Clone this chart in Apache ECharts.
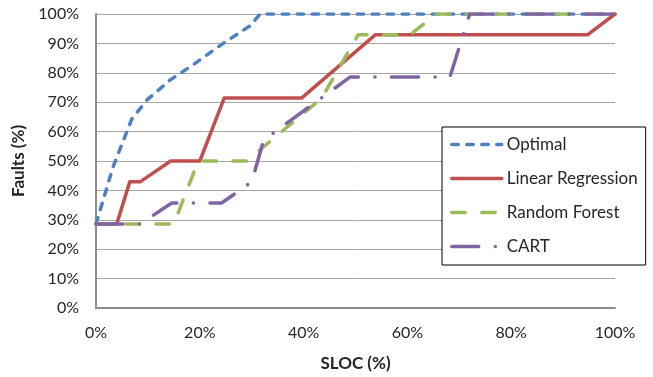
<!DOCTYPE html>
<html>
<head>
<meta charset="utf-8">
<script src="https://cdn.jsdelivr.net/npm/echarts@6/dist/echarts.min.js"></script>
<style>html,body{margin:0;padding:0;background:#fff;}#c{width:653px;height:377px;}</style>
</head>
<body>
<div id="c"></div>
<script>
var seriesNames = ['Optimal', 'Linear Regression', 'Random Forest', 'CART'];
var optimalX = [0, 3.3, 6.9, 9.8, 14.3, 18.7, 24.5, 29.7, 31.6, 100];
var optimalY = [28.6, 48, 64.3, 70.7, 77.6, 82.7, 90, 96, 100, 100];
var linRegX = [0, 4, 6.5, 8.5, 14.4, 20, 24.7, 39.6, 53.8, 94.7, 100];
var linRegY = [28.6, 28.6, 42.9, 42.9, 50, 50, 71.4, 71.4, 92.9, 92.9, 100];
var forestX = [0, 15, 19.7, 29, 43.5, 50.5, 60.5, 65.6, 100];
var forestY = [28.6, 28.6, 50, 50, 71.4, 92.9, 92.9, 100, 100];
var cartX = [0, 8.5, 14.6, 24.2, 30, 32.3, 49, 68.2, 72, 100];
var cartY = [28.6, 28.6, 35.7, 35.7, 42.9, 57.1, 78.6, 78.6, 100, 100];
var xTicks = [0, 20, 40, 60, 80, 100];
var yTicks = [0, 10, 20, 30, 40, 50, 60, 70, 80, 90, 100];

function zip(xs, ys) { return xs.map(function (x, i) { return [x, ys[i]]; }); }

var FONT = 'Lato, "Open Sans", sans-serif';
var chart = echarts.init(document.getElementById('c'), null, {renderer: 'canvas'});
var styles = [
  {color: '#4F81BD', type: [6.5, 8.5]},
  {color: '#C0504D', type: 'solid'},
  {color: '#9BBB59', type: [13.5, 16.5]},
  {color: '#8064A2', type: [27, 16.5, 0.1, 16.5]}
];
var datasets = [zip(optimalX, optimalY), zip(linRegX, linRegY), zip(forestX, forestY), zip(cartX, cartY)];

chart.setOption({
  animation: false,
  textStyle: {fontFamily: FONT},
  grid: {left: 96, right: 38, top: 14, bottom: 69},
  legend: {
    orient: 'vertical',
    left: 442, top: 127,
    padding: [9, 8, 10, 8],
    itemWidth: 50, itemHeight: 16, itemGap: 17,
    itemStyle: {opacity: 0},
    lineStyle: {width: 3.5, cap: 'round'},
    borderColor: '#000', borderWidth: 1, backgroundColor: '#fff',
    textStyle: {fontFamily: FONT, fontSize: 17, color: '#262626'},
    data: seriesNames
  },
  xAxis: {
    type: 'value', min: xTicks[0], max: xTicks[xTicks.length - 1], interval: 20,
    name: 'SLOC (%)', nameLocation: 'middle', nameGap: 47,
    nameTextStyle: {fontFamily: FONT, fontSize: 17, fontWeight: 'bold', color: '#262626'},
    axisLine: {lineStyle: {color: '#8c8c8c', width: 2}},
    axisTick: {show: false},
    axisLabel: {formatter: '{value}%', fontSize: 16, color: '#262626', margin: 17, fontFamily: FONT},
    splitLine: {show: false}
  },
  yAxis: {
    type: 'value', min: yTicks[0], max: yTicks[yTicks.length - 1], interval: 10,
    name: 'Faults (%)', nameLocation: 'middle', nameGap: 63, nameRotate: 90,
    nameTextStyle: {fontFamily: FONT, fontSize: 17, fontWeight: 'bold', color: '#262626'},
    axisLine: {show: true, lineStyle: {color: '#8c8c8c', width: 2}},
    axisTick: {show: false},
    axisLabel: {formatter: '{value}%', fontSize: 16, color: '#262626', margin: 17, fontFamily: FONT},
    splitLine: {show: true, lineStyle: {color: '#a6a6a6', width: 1}}
  },
  series: seriesNames.map(function (n, i) {
    return {
      name: n, type: 'line', data: datasets[i],
      symbol: 'none', showSymbol: false,
      color: styles[i].color,
      lineStyle: {color: styles[i].color, width: 3.5, type: styles[i].type, cap: 'round', join: 'round'}
    };
  })
});
</script>
</body>
</html>
